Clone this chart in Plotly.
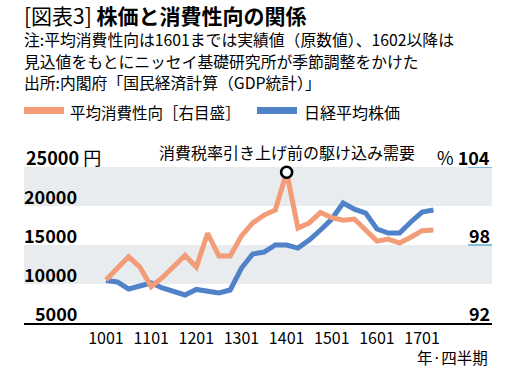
import plotly.graph_objects as go

# ---- data ----
quarters = ["1001","1002","1003","1004","1101","1102","1103","1104",
            "1201","1202","1203","1204","1301","1302","1303","1304",
            "1401","1402","1403","1404","1501","1502","1503","1504",
            "1601","1602","1603","1604","1701","1702"]
nikkei = [10450,10260,9360,9740,10130,9490,9100,8590,
          9300,9100,8850,9230,12050,13850,14100,15000,
          15000,14600,15640,16920,18330,20380,19600,19100,
          17050,16540,16540,17950,19230,19490]
propensity = [95.3,96.2,97.1,96.3,94.8,95.5,96.4,97.2,
              96.3,98.9,97.15,97.15,98.7,99.7,100.3,100.7,
              103.6,99.3,99.7,100.5,100.1,99.9,100.0,99.15,
              98.3,98.45,98.15,98.6,99.1,99.15]
x_ticks = ["1001","1101","1201","1301","1401","1501","1601","1701"]
left_ticks = [5000,10000,15000,20000,25000]
right_ticks = [92,98,104]
highlight_q = "1401"
name_prop = "平均消費性向［右目盛］"
name_nikkei = "日経平均株価"
title_a = "[図表3] "
title_b = "株価と消費性向の関係"
notes = ["注:平均消費性向は1601までは実績値（原数値）、1602以降は",
         "見込値をもとにニッセイ基礎研究所が季節調整をかけた",
         "出所:内閣府「国民経済計算（GDP統計）」"]
callout = "消費税率引き上げ前の駆け込み需要"
x_unit = "年·四半期"

ORANGE = "#F29C78"
BLUE = "#4F82C8"
BAND = "#E9ECEF"
TEAL = "#3A9DC0"
FONT = "Noto Sans CJK JP"

# plot-area geometry (pixels in the 525x381 canvas)
L, R, T, B = 24, 492, 167, 323
W, H = R - L, B - T
def px(xp):
    return (xp - L) / W
def py(yp):
    return (B - yp) / H

idx = list(range(len(quarters)))
tick_idx = [quarters.index(q) for q in x_ticks]
hi = quarters.index(highlight_q)

fig = go.Figure()
fig.add_trace(go.Scatter(x=idx, y=propensity, yaxis="y2", mode="lines",
                         line=dict(color=ORANGE, width=5), name=name_prop))
fig.add_trace(go.Scatter(x=idx, y=nikkei, mode="lines",
                         line=dict(color=BLUE, width=5), name=name_nikkei))
fig.add_trace(go.Scatter(x=[hi], y=[propensity[hi]], yaxis="y2", mode="markers",
                         marker=dict(size=11, color="white",
                                     line=dict(color="black", width=2.6)),
                         cliponaxis=False, showlegend=False))

shapes = []
for lo, up in [(20000, 25000), (10000, 15000)]:
    shapes.append(dict(type="rect", xref="paper", yref="y", x0=0, x1=1,
                       y0=lo, y1=up, fillcolor=BAND, line_width=0, layer="below"))
for v in right_ticks[1:]:
    shapes.append(dict(type="line", xref="paper", yref="y2", x0=px(468), x1=1,
                       y0=v, y1=v, line=dict(color=TEAL, width=1.2)))
# legend swatches
shapes.append(dict(type="rect", xref="paper", yref="paper",
                   x0=px(24), x1=px(64), y0=py(114), y1=py(107),
                   fillcolor=ORANGE, line_width=0))
shapes.append(dict(type="rect", xref="paper", yref="paper",
                   x0=px(257), x1=px(297), y0=py(114), y1=py(107),
                   fillcolor=BLUE, line_width=0))

ann = []
def text(x, y, t, size, xanchor="left", yanchor="middle"):
    ann.append(dict(xref="paper", yref="paper", x=px(x), y=py(y),
                    xanchor=xanchor, yanchor=yanchor, text=t, showarrow=False,
                    align="left",
                    font=dict(size=size, color="black", family=FONT)))

# left axis labels
for v in left_ticks:
    if v == 25000:
        ann.append(dict(xref="paper", yref="y", x=0, xanchor="left", y=v,
                        yanchor="middle", yshift=10, text=f"<b>{v}</b> 円",
                        showarrow=False, font=dict(size=18, color="black", family=FONT)))
    else:
        ann.append(dict(xref="paper", yref="y", x=px(79), xanchor="right", y=v,
                        yanchor="middle", yshift=10, text=f"<b>{v}</b>",
                        showarrow=False, font=dict(size=18, color="black", family=FONT)))
# right axis labels
for v in right_ticks:
    t = ("% " if v == 104 else "") + f"<b>{v}</b>"
    ann.append(dict(xref="paper", yref="y2", x=1, xanchor="right", y=v,
                    yanchor="middle", yshift=10, text=t, showarrow=False,
                    font=dict(size=18, color="black", family=FONT)))

text(490, 357, x_unit, 15.5, xanchor="right")
ann.append(dict(xref="x", yref="paper", x=hi, xanchor="center", y=py(152),
                yanchor="middle", text=callout, showarrow=False,
                font=dict(size=16, color="black", family=FONT)))
text(22, 15.5, f"{title_a}<b>{title_b}</b>", 21)
for t, yy in zip(notes, [39.5, 61, 82.5]):
    text(22, yy, t, 15.8)
text(68, 112, name_prop, 15.5)
text(302, 112, name_nikkei, 16)

q = 11.29
fig.update_layout(
    width=525, height=381,
    margin=dict(l=L, r=525 - R, t=T, b=381 - B, autoexpand=False),
    paper_bgcolor="white", plot_bgcolor="white",
    showlegend=False,
    font=dict(family=FONT, color="black"),
    xaxis=dict(range=[-(106 - L) / q, (R - 106) / q], tickvals=tick_idx, ticktext=x_ticks,
               showgrid=False, zeroline=False, showline=True, linecolor="black",
               linewidth=1.5, ticks="", tickfont=dict(size=16, family=FONT)),
    yaxis=dict(range=[5000, 25000], showgrid=False, zeroline=False,
               showticklabels=False, ticks=""),
    yaxis2=dict(range=[92, 104], overlaying="y", side="right", showgrid=False,
                zeroline=False, showticklabels=False, ticks=""),
    shapes=shapes, annotations=ann,
)
fig.write_html("out.html", config={"displayModeBar": False},
               post_script="document.body.style.margin='0';")
